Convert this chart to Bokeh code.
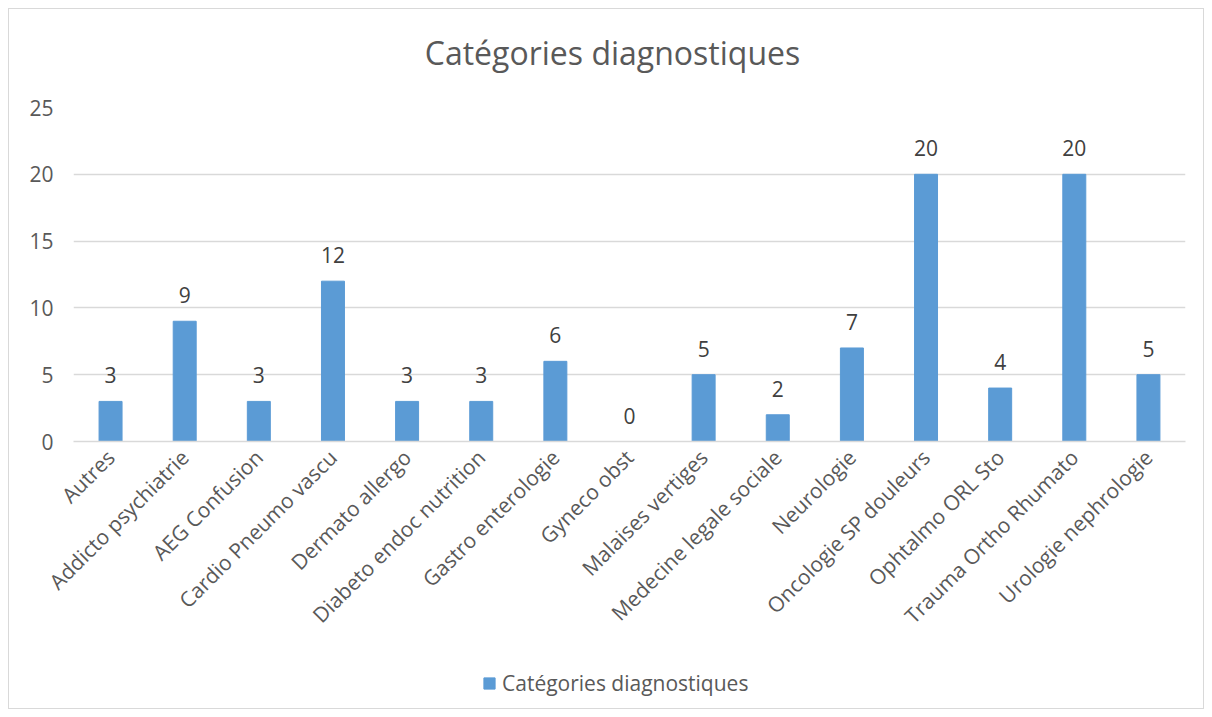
import math
from bokeh.plotting import figure
from bokeh.layouts import column
from bokeh.models import (ColumnDataSource, LabelSet, Label, Legend, LegendItem,
                          SingleIntervalTicker, Range1d)
from bokeh.core.properties import value
from bokeh.embed import file_html
from bokeh.resources import INLINE

categories = ["Autres", "Addicto psychiatrie", "AEG Confusion", "Cardio Pneumo vascu",
              "Dermato allergo", "Diabeto endoc nutrition", "Gastro enterologie",
              "Gyneco obst", "Malaises vertiges", "Medecine legale sociale", "Neurologie",
              "Oncologie SP douleurs", "Ophtalmo ORL Sto", "Trauma Ortho Rhumato",
              "Urologie nephrologie"]
values = [3, 9, 3, 12, 3, 3, 6, 0, 5, 2, 7, 20, 4, 20, 5]
series_name = "Catégories diagnostiques"
title_text = "Catégories diagnostiques"

FONT = "Open Sans"
BAR = "#5b9bd5"
GRID = "#d9d9d9"
TXT = "#595959"
W = 1194


def strip(h):
    f = figure(width=W, height=h, output_backend="svg", toolbar_location=None,
               x_range=Range1d(0, 1), y_range=Range1d(0, 1),
               min_border_left=0, min_border_right=0, min_border_top=0, min_border_bottom=0)
    f.axis.visible = False
    f.grid.visible = False
    f.outline_line_color = None
    f.border_fill_color = "white"
    f.background_fill_color = "white"
    return f


# title strip
tf = strip(80)
tf.add_layout(Label(x=0.4847, y=0.4625, text=title_text, text_align="center",
                    text_baseline="middle", text_font=FONT, text_font_size="32px",
                    text_color=TXT))

# main chart
src = ColumnDataSource(dict(cat=categories, val=values, lab=[str(v) for v in values]))

p = figure(x_range=categories, y_range=Range1d(0, 25), width=W, height=569,
           output_backend="svg", toolbar_location=None,
           min_border_left=64, min_border_right=18, min_border_top=18, min_border_bottom=217)
p.outline_line_color = None
p.background_fill_color = "white"
p.border_fill_color = "white"

r = p.vbar(x="cat", top="val", width=0.31, source=src, color=BAR)

p.yaxis.ticker = SingleIntervalTicker(interval=5)
p.yaxis.axis_line_color = None
p.yaxis.major_tick_line_color = None
p.yaxis.minor_tick_line_color = None
p.yaxis.major_label_text_font = FONT
p.yaxis.major_label_text_font_size = "21px"
p.yaxis.major_label_text_color = TXT
p.yaxis.major_label_standoff = 14

p.xaxis.axis_line_color = GRID
p.xaxis.axis_line_width = 1.5
p.xaxis.major_tick_line_color = None
p.xaxis.minor_tick_line_color = None
p.xaxis.major_label_orientation = math.pi / 4
p.xaxis.major_label_text_font = FONT
p.xaxis.major_label_text_font_size = "21px"
p.xaxis.major_label_text_color = TXT
p.xaxis.major_label_standoff = 6

p.xgrid.grid_line_color = None
p.ygrid.grid_line_color = GRID
p.ygrid.grid_line_width = 1.5

labels = LabelSet(x="cat", y="val", text="lab", source=src, text_align="center",
                  text_baseline="bottom", y_offset=18, text_font=value(FONT),
                  text_font_size=value("21px"), text_color="#404040")
p.add_layout(labels)

# legend strip below the chart (hidden proxy renderer supplies the swatch)
lg = strip(50)
lr = lg.vbar(x=[0.5], top=[0.5], width=0.3, color=BAR, visible=False)
legend = Legend(items=[LegendItem(label=series_name, renderers=[lr])],
                location=(409, 11), orientation="horizontal",
                label_text_font=FONT, label_text_font_size="21px", label_text_color=TXT,
                glyph_width=14, glyph_height=14, border_line_color=None,
                background_fill_alpha=0, label_standoff=6, padding=5, margin=0,
                inactive_fill_alpha=0)
lg.add_layout(legend, "center")

layout = column(tf, p, lg, spacing=0,
                styles={"border": "1px solid #d9d9d9", "margin-left": "8px", "margin-top": "8px"})

open("out.html", "w").write(file_html(layout, INLINE))
